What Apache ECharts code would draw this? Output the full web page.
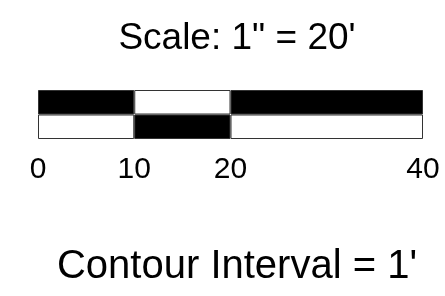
<!DOCTYPE html>
<html>
<head>
<meta charset="utf-8">
<script src="https://cdn.jsdelivr.net/npm/echarts@6/dist/echarts.min.js"></script>
<style>
  html, body { margin: 0; padding: 0; background: #fff; }
  #main { width: 445px; height: 296px; }
</style>
</head>
<body>
<div id="main"></div>
<script>
// scale bar: segment edges (feet) and which row is filled black
const ticks = [0, 10, 20, 40];
const rows = ['bottom', 'top'];
const topFill = [1, 0, 1];
const bottomFill = [0, 1, 0];
const titleText = 'Scale: 1" = 20\'';
const footText = 'Contour Interval = 1\'';

const font = 'Liberation Sans, Arial, sans-serif';

// one stacked bar series per segment
let series = [];
for (let i = 0; i < ticks.length - 1; i++) {
    let len = ticks[i + 1] - ticks[i];
    series.push({
        type: 'bar',
        stack: 'bar',
        barWidth: '100%',
        silent: true,
        data: [
            { value: len, itemStyle: { color: bottomFill[i] ? '#000' : '#fff' } },
            { value: len, itemStyle: { color: topFill[i] ? '#000' : '#fff' } }
        ],
        itemStyle: { borderColor: '#333', borderWidth: 1 }
    });
}

const chart = echarts.init(document.getElementById('main'));
chart.setOption({
    animation: false,
    backgroundColor: '#fff',
    title: [
        {
            text: titleText, left: 232, top: 15, textAlign: 'center',
            textStyle: { fontFamily: font, fontSize: 37, fontWeight: 'normal', color: '#000' }
        },
        {
            text: footText, left: 232, top: 242, textAlign: 'center',
            textStyle: { fontFamily: font, fontSize: 40, fontWeight: 'normal', color: '#000' }
        }
    ],
    grid: { left: 38, right: 22, top: 90, bottom: 157 },
    xAxis: {
        type: 'value', min: 0, max: 40, interval: 10,
        axisLine: { show: false }, axisTick: { show: false }, splitLine: { show: false },
        axisLabel: {
            customValues: ticks, margin: 16,
            fontFamily: font, fontSize: 30, color: '#000'
        }
    },
    yAxis: {
        type: 'category', data: rows,
        axisLine: { show: false }, axisTick: { show: false }, axisLabel: { show: false }
    },
    series: series
});
</script>
</body>
</html>
